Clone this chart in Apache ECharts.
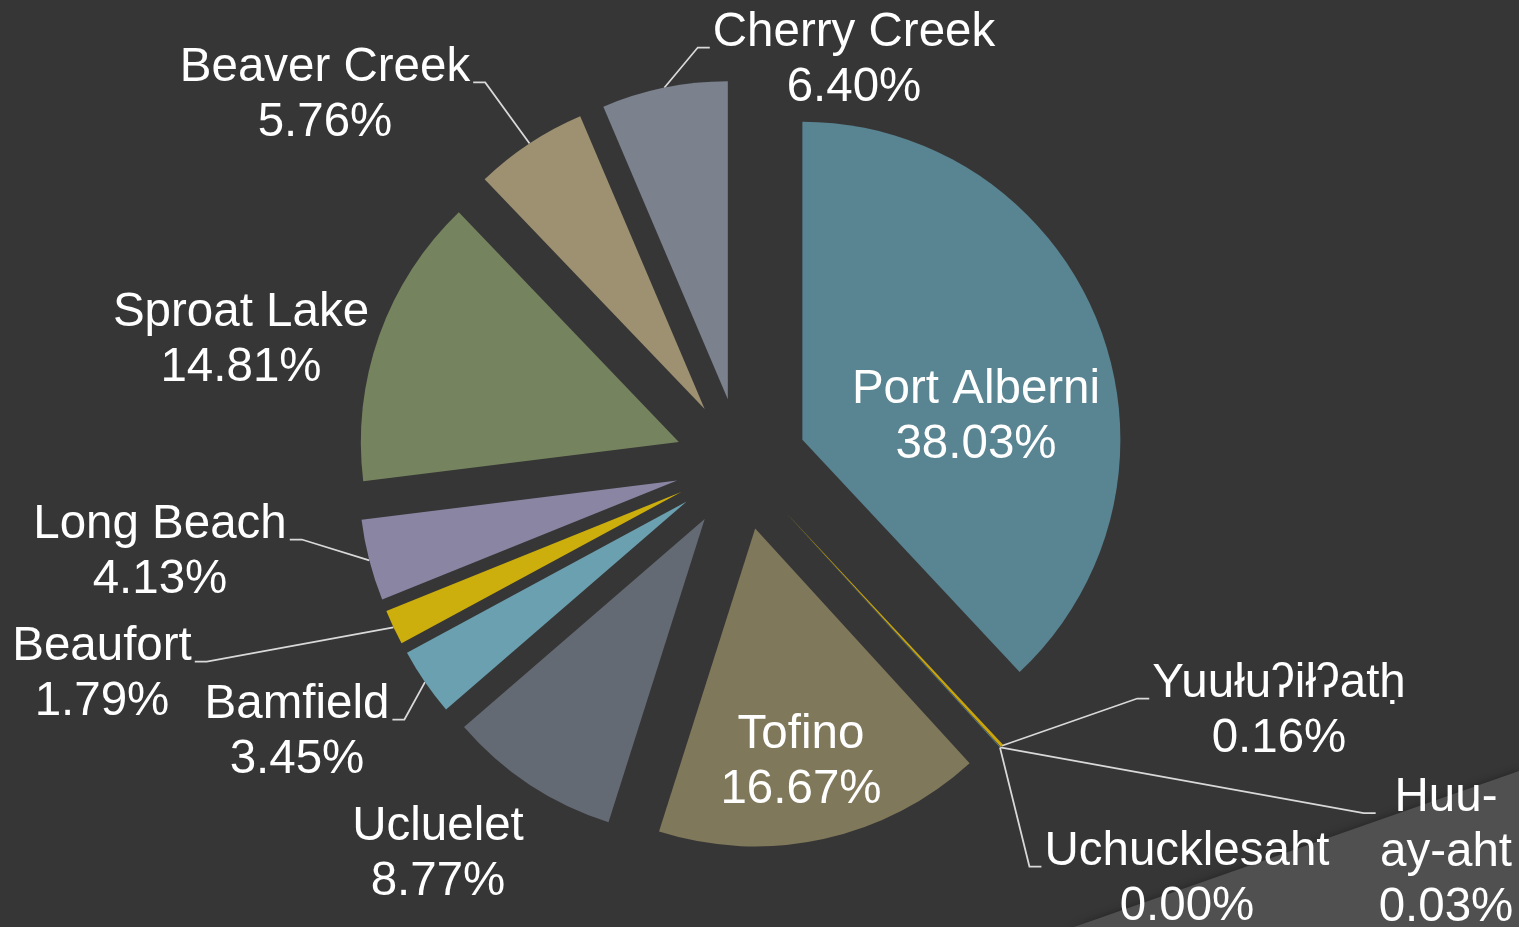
<!DOCTYPE html>
<html>
<head>
<meta charset="utf-8">
<script src="https://cdn.jsdelivr.net/npm/echarts@6/dist/echarts.min.js"></script>
<style>
html,body{margin:0;padding:0;background:#363636;}
#chart{width:1519px;height:927px;}
</style>
</head>
<body>
<div id="chart"></div>
<script>
// Data (percent share), clockwise from 12 o'clock
const categories = ['Port Alberni', 'Yuułuʔiłʔatḥ', 'Huu-ay-aht', 'Uchucklesaht', 'Tofino', 'Ucluelet', 'Bamfield', 'Beaufort', 'Long Beach', 'Sproat Lake', 'Beaver Creek', 'Cherry Creek'];
const values = [38.03, 0.16, 0.03, 0.00, 16.67, 8.77, 3.45, 1.79, 4.13, 14.81, 5.76, 6.40];

// Styling / layout
const colors = ['#598492', '#C9A50A', '#5F8FA0', '#7A7A7A', '#80785A', '#646A73', '#6BA0B0', '#CCAE0C', '#8A85A2', '#75845E', '#9E9172', '#7B828D'];
const insideLabels = ['Port Alberni', 'Tofino'];
const noLeader = ['Sproat Lake', 'Ucluelet'];
const wrapNames = { 'Huu-ay-aht': 'Huu-\nay-aht' };
const CENTER = [741, 464];
const RADIUS = 318;
const EXPLODE = 66;
const LINE_H = 55;
const LEADER_H = 12;
// label block centres (layout only)
const labelPos = {
  'Port Alberni': [976, 417],
  'Yuułuʔiłʔatḥ': [1279, 711],
  'Huu-ay-aht': [1446, 853],
  'Uchucklesaht': [1187, 879],
  'Tofino': [801, 762],
  'Ucluelet': [438, 854],
  'Bamfield': [297, 732],
  'Beaufort': [102, 674],
  'Long Beach': [160, 552],
  'Sproat Lake': [241, 340],
  'Beaver Creek': [325, 95],
  'Cherry Creek': [854, 60]
};

// mid-angle explode offsets, derived from the data
const total = values.reduce((a, b) => a + b, 0);
const offsets = [];
(function () {
  let cum = 0;
  values.forEach(v => {
    const mid = (cum + v / 2) / total * Math.PI * 2;
    offsets.push([EXPLODE * Math.sin(mid), -EXPLODE * Math.cos(mid)]);
    cum += v;
  });
})();

const chart = echarts.init(document.getElementById('chart'), null, { renderer: 'canvas' });

const data = categories.map((name, i) => {
  const item = {
    name: name,
    value: values[i],
    selected: true,
    itemStyle: { color: colors[i] },
    select: { itemStyle: { color: colors[i] } }
  };
  if (insideLabels.includes(name)) {
    item.label = { position: 'inside' };
    item.labelLine = { show: false };
  }
  if (noLeader.includes(name)) {
    item.labelLine = { show: false };
  }
  return item;
});

chart.setOption({
  backgroundColor: '#363636',
  animation: false,
  graphic: [{
    type: 'polygon',
    z: -10,
    silent: true,
    shape: { points: [[1519, 771], [1519, 927], [1074, 927]] },
    style: { fill: '#505050', shadowBlur: 8, shadowColor: 'rgba(0,0,0,0.35)' }
  }],
  series: [{
    type: 'pie',
    z: 5,
    center: CENTER,
    radius: RADIUS,
    startAngle: 90,
    clockwise: true,
    selectedMode: 'multiple',
    selectedOffset: EXPLODE,
    avoidLabelOverlap: false,
    emphasis: { disabled: true },
    select: { itemStyle: { borderWidth: 0 } },
    itemStyle: { borderWidth: 0 },
    label: {
      show: true,
      color: '#FFFFFF',
      fontFamily: 'Liberation Sans, Arial, sans-serif',
      fontSize: 47.5,
      lineHeight: LINE_H,
      overflow: 'none',
      formatter: function (p) {
        const nm = wrapNames[p.name] || p.name;
        const lines = nm.split('\n').concat([p.value.toFixed(2) + '%']);
        return lines.map(s => '{c|' + s + '}').join('\n');
      },
      rich: {
        c: {
          align: 'center',
          color: '#FFFFFF',
          fontFamily: 'Liberation Sans, Arial, sans-serif',
          fontSize: 47.5,
          lineHeight: LINE_H
        }
      }
    },
    labelLine: {
      show: true,
      length: 20,
      length2: LEADER_H,
      minTurnAngle: 0,
      lineStyle: { color: '#D9D9D9', width: 1.75 }
    },
    labelLayout: function (params) {
      const i = params.dataIndex;
      const name = categories[i];
      const p = labelPos[name];
      const off = offsets[i];
      const r = params.labelRect;
      const res = {
        dx: p[0] - (r.x + r.width / 2) - off[0],
        dy: p[1] - (r.y + r.height / 2) - off[1]
      };
      const pts = params.labelLinePoints;
      if (pts && !insideLabels.includes(name) && !noLeader.includes(name)) {
        const p0 = pts[0];
        // target anchor in un-exploded coordinates
        const cx = p[0] - off[0];
        const top = p[1] - r.height / 2 - off[1];
        const ay = top + LINE_H / 2 + 15;
        let ax, bx;
        if (cx > p0[0]) {
          ax = cx - r.width / 2 - 3;
          bx = ax - LEADER_H;
        } else {
          ax = cx + r.width / 2 + 3;
          bx = ax + LEADER_H;
        }
        res.labelLinePoints = [[p0[0], p0[1]], [bx, ay], [ax, ay]];
      }
      return res;
    },
    data: data
  }]
});
</script>
</body>
</html>
